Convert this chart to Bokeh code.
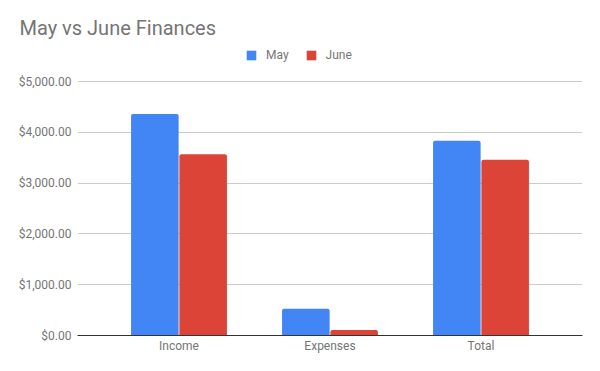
from bokeh.plotting import figure
from bokeh.models import (FactorRange, Range1d, NumeralTickFormatter, Legend,
                          LegendItem, ColumnDataSource, Title)
from bokeh.transform import dodge
from bokeh.embed import file_html
from bokeh.resources import INLINE

categories = ["Income", "Expenses", "Total"]
may = [4360, 525, 3835]
june = [3570, 110, 3460]
series_names = ["May", "June"]
y_ticks = [0, 1000, 2000, 3000, 4000, 5000]
title_text = "May vs June Finances"

BLUE = "#4285F4"
RED = "#DB4437"
GREY = "#757575"
FONT = "Roboto"

# frame: left 77, right 582, top 42, bottom 335; 5000 at y=81
Y_END = 5000 * (335 - 42) / (335 - 81)

src = ColumnDataSource(dict(cat=categories, may=may, june=june))

p = figure(x_range=FactorRange(*categories, range_padding=0.1148),
           y_range=Range1d(0, Y_END), width=600, height=371,
           output_backend="svg", toolbar_location=None, title=None,
           min_border_left=77, min_border_right=18,
           min_border_top=42, min_border_bottom=36)

r_may = p.vbar(x=dodge("cat", -0.16, range=p.x_range), top="may", width=0.315,
               source=src, fill_color=BLUE, line_color=None,
               border_radius=(2, 2, 0, 0))
r_june = p.vbar(x=dodge("cat", 0.16, range=p.x_range), top="june", width=0.315,
                source=src, fill_color=RED, line_color=None,
                border_radius=(2, 2, 0, 0))

for ax in (p.xaxis[0], p.yaxis[0]):
    ax.major_tick_line_color = None
    ax.minor_tick_line_color = None
    ax.major_tick_out = 0
    ax.major_tick_in = 0
    ax.minor_tick_out = 0
    ax.minor_tick_in = 0
    ax.major_label_text_font = FONT
    ax.major_label_text_font_size = "12px"
    ax.major_label_text_color = GREY

p.yaxis.ticker = y_ticks
p.yaxis.formatter = NumeralTickFormatter(format="$0,0.00")
p.yaxis.axis_line_color = None
p.yaxis.major_label_standoff = 6

p.xaxis.axis_line_color = "#333333"
p.xaxis.major_label_standoff = 3

p.xgrid.grid_line_color = None
p.ygrid.grid_line_color = "#cccccc"
p.outline_line_color = None

legend = Legend(items=[LegendItem(label=series_names[0], renderers=[r_may]),
                       LegendItem(label=series_names[1], renderers=[r_june])],
                location=(168, 273), orientation="horizontal",
                glyph_width=12, glyph_height=12, label_standoff=9, spacing=16,
                padding=0, margin=0, border_line_color=None,
                background_fill_alpha=0, label_text_font=FONT,
                label_text_font_size="12px", label_text_color=GREY,
                label_height=12)
p.add_layout(legend)

p.title = Title(text=title_text, align="left", offset=-58, standoff=6,
                text_font=FONT, text_font_size="20px", text_color=GREY,
                text_font_style="normal")

open("out.html", "w").write(file_html(p, INLINE))
